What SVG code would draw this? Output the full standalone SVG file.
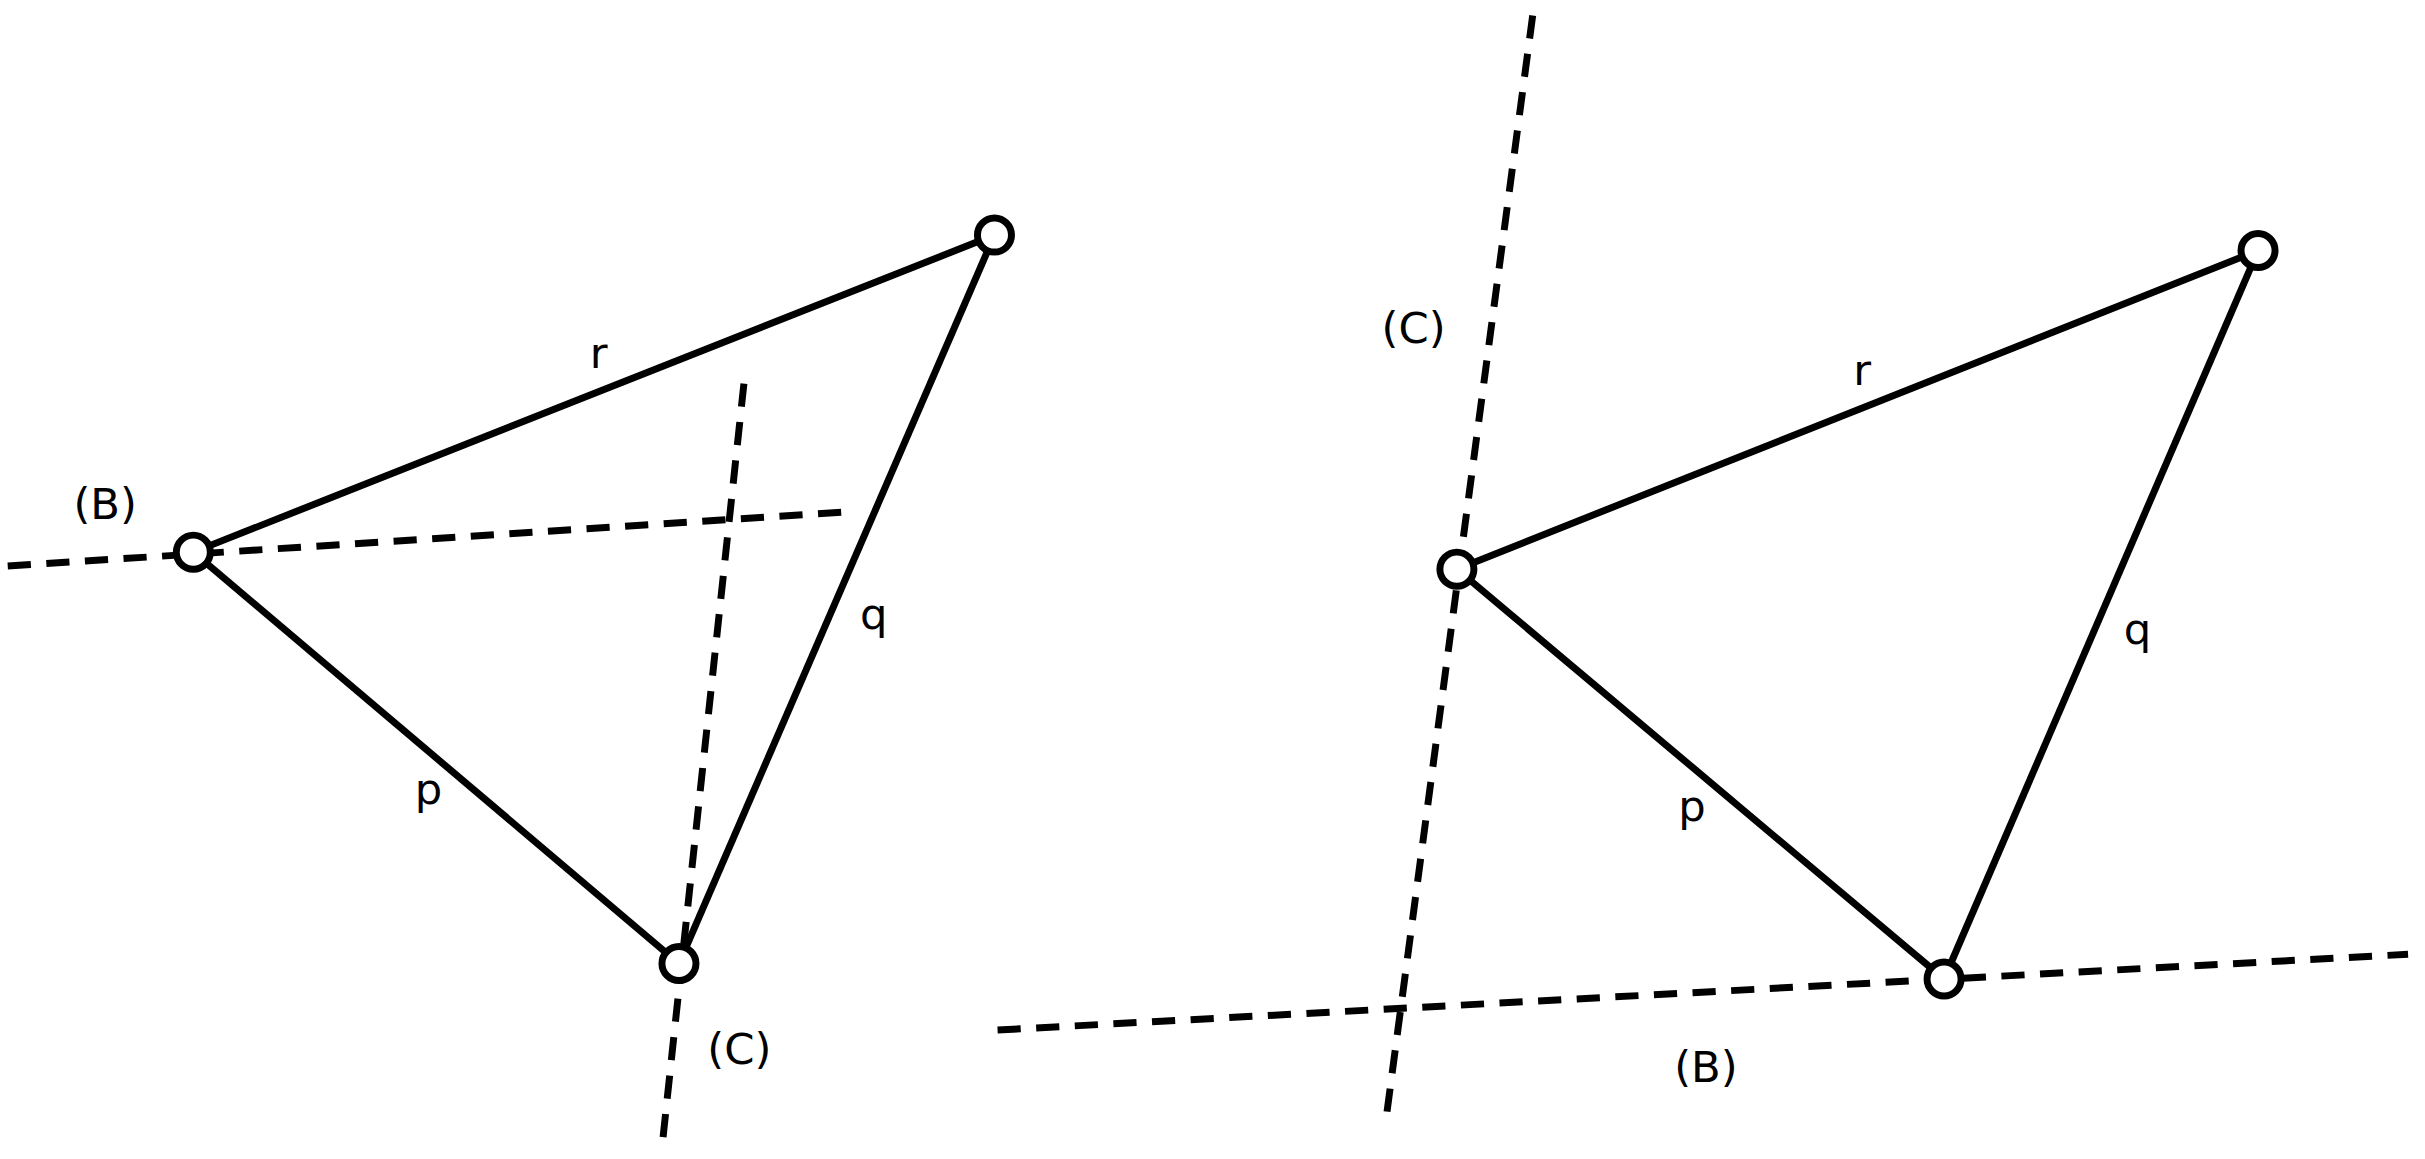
<svg xmlns="http://www.w3.org/2000/svg" width="2425" height="1159" viewBox="0 0 2425 1159">
<style>
.e{stroke:#000;stroke-width:4.5;fill:none}
.d{stroke:#000;stroke-width:4.5;fill:none;stroke-dasharray:15 10}
.n{fill:#fff;stroke:#000;stroke-width:4.5}
text{font-family:"DejaVu Sans",sans-serif;font-size:28px;fill:#000;text-anchor:middle;dominant-baseline:central}
</style>
<rect width="2425" height="1159" fill="#fff"/>
<g transform="scale(1.5466)">
<g id="connectors">
<line class="d" x1="5" y1="366" x2="548" y2="331"/>
<line class="d" x1="481" y1="248" x2="428" y2="742"/>
<line class="e" x1="125" y1="357" x2="643" y2="152"/>
<line class="e" x1="125" y1="357" x2="439" y2="623"/>
<line class="e" x1="439" y1="623" x2="643" y2="152"/>
<line class="d" x1="991" y1="10" x2="896" y2="725"/>
<line class="d" x1="645" y1="666" x2="1557" y2="617"/>
<line class="e" x1="942" y1="368" x2="1460" y2="162"/>
<line class="e" x1="942" y1="368" x2="1257" y2="633"/>
<line class="e" x1="1257" y1="633" x2="1460" y2="162"/>
</g>
<g id="L_A"><circle class="n" cx="643" cy="152" r="11"/></g>
<g id="L_B"><circle class="n" cx="125" cy="357" r="11"/></g>
<g id="L_C"><circle class="n" cx="439" cy="623" r="11"/></g>
<g id="R_A"><circle class="n" cx="1460" cy="162" r="11"/></g>
<g id="R_B"><circle class="n" cx="942" cy="368" r="11"/></g>
<g id="R_C"><circle class="n" cx="1257" cy="633" r="11"/></g>
<g id="labels">
<text x="387" y="228">r</text>
<text x="68" y="326">(B)</text>
<text x="565" y="397">q</text>
<text x="277" y="510">p</text>
<text x="478" y="678">(C)</text>
<text x="914" y="212">(C)</text>
<text x="1204" y="239">r</text>
<text x="1382" y="407">q</text>
<text x="1094" y="521">p</text>
<text x="1103" y="690">(B)</text>
</g>
</g>
</svg>
